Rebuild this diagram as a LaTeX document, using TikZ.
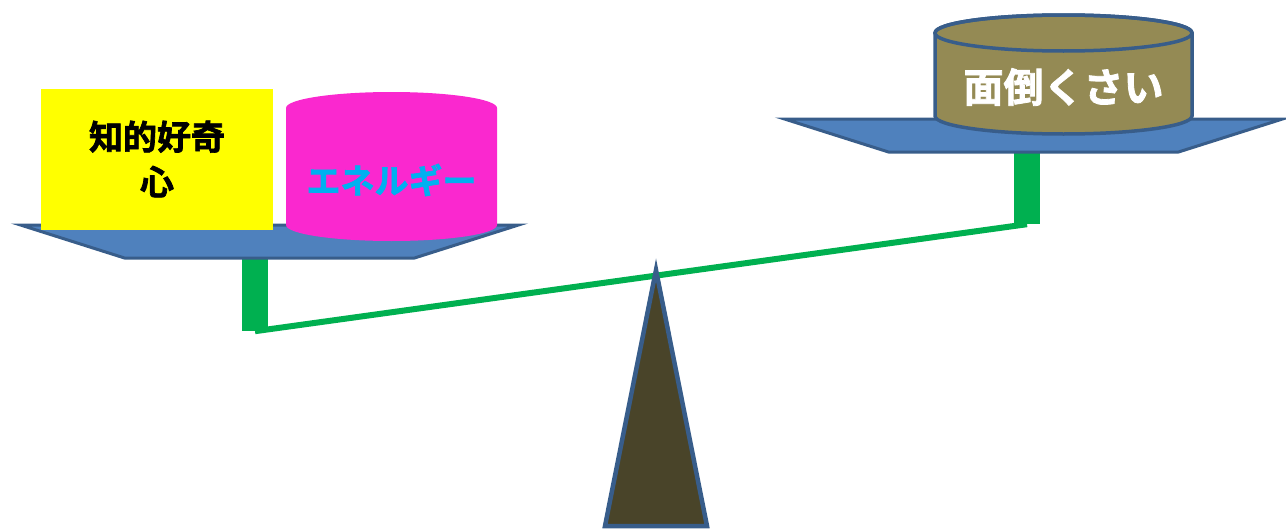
\documentclass[tikz,border=0pt]{standalone}
\usepackage{fontspec}
\newfontfamily\cjk{Noto Sans CJK JP}[BoldFont={Noto Sans CJK JP Bold}, BoldFeatures={FakeBold=2}]
\usetikzlibrary{positioning}
\definecolor{panblue}{HTML}{4F81BD}
\definecolor{panedge}{HTML}{385D8A}
\definecolor{beamgreen}{HTML}{00B050}
\definecolor{curioyellow}{HTML}{FFFF00}
\definecolor{energypink}{HTML}{FA28CF}
\definecolor{energycyan}{HTML}{00B0F0}
\definecolor{lazyolive}{HTML}{948A54}
\definecolor{fulcrumbrown}{HTML}{494429}
\newcommand{\scalepan}[2]{%
  \draw[panedge, fill=panblue, line width=3pt]
    (#1-249,#2) -- (#1+249,#2) -- (#1+145,#2+33) -- (#1-145,#2+33) -- cycle;}
\newcommand{\stemnode}[3]{%
  \node[fill=beamgreen, minimum width=26pt, minimum height=74pt,
        inner sep=0pt] (#1) at (#2,#3) {};}

\begin{document}
\begin{tikzpicture}[x=1pt, y=-1pt, font=\cjk\bfseries]
      \useasboundingbox (0,0) rectangle (1286,530);
      \stemnode{lstem}{255}{294}
      \stemnode{rstem}{1027}{187}
      \draw[beamgreen, line width=6pt] (lstem.south) -- (rstem.south);
      \draw[panedge, fill=fulcrumbrown, line width=4.5pt] (656,270) -- (707,526) -- (605,526) -- cycle;
      \scalepan{269.5}{225}
      \scalepan{1033.5}{119}
      \node[fill=curioyellow, minimum width=232pt, minimum height=141pt, inner sep=0pt,
            align=center, font=\cjk\bfseries\fontsize{34pt}{45pt}\selectfont] (curio) at (157,159) {知的好奇\\心};
      \fill[energypink] (286,108) -- (286,225) arc[start angle=180, end angle=0, x radius=105.5, y radius=16]
        -- (497,108) arc[start angle=0, end angle=-180, x radius=105.5, y radius=16] -- cycle;
      \node[text=energycyan, font=\cjk\bfseries\fontsize{34pt}{40pt}\selectfont] (energy) at (391.5,180) {エネルギー};
      \draw[panedge, fill=lazyolive, line width=3.5pt] (935,33) -- (935,116) arc[start angle=180, end angle=0, x radius=128.5, y radius=18]
        -- (1192,33) arc[start angle=0, end angle=-180, x radius=128.5, y radius=18] -- cycle;
      \draw[panedge, line width=3.5pt] (1063.5,33) ellipse[x radius=128.5, y radius=18];
      \node[text=white, font=\cjk\bfseries\fontsize{40pt}{46pt}\selectfont] (lazy) at (1063.5,87) {面倒くさい};
    \end{tikzpicture}
\end{document}
